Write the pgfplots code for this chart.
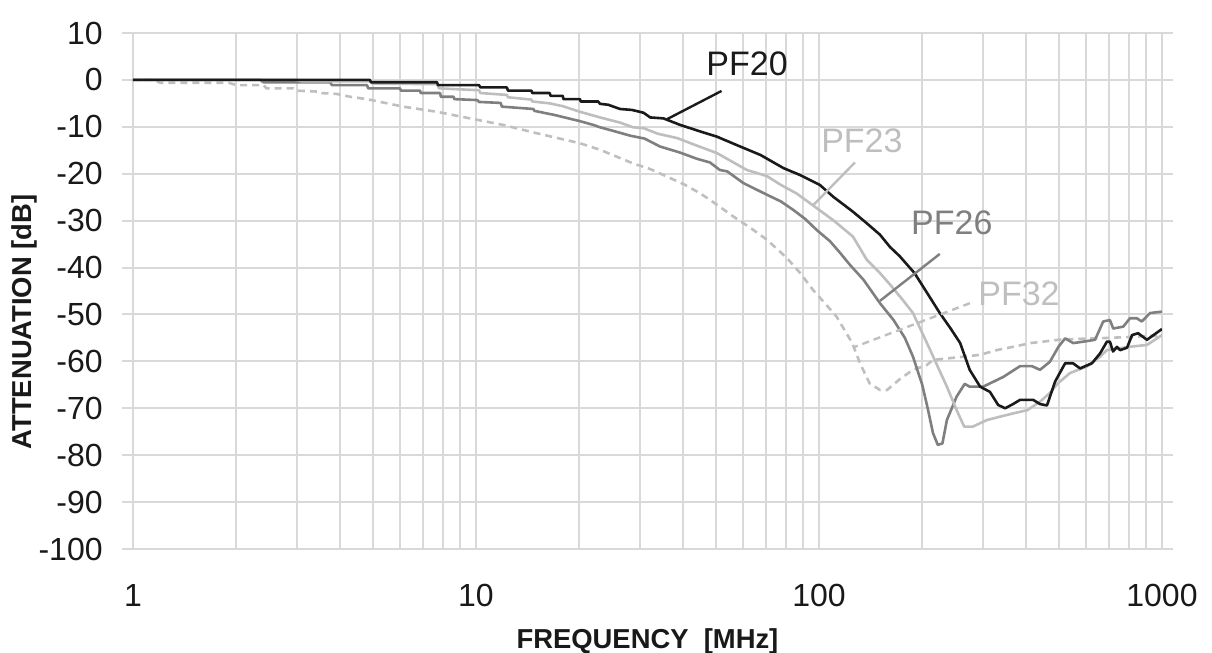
\documentclass[border=0pt]{standalone}
\usepackage{fontspec}
\setmainfont{Liberation Sans}
\usepackage{pgfplots}
\usepackage{pgfplotstable}
\pgfplotsset{compat=1.18}

\definecolor{gridgray}{HTML}{D9D9D9}
\definecolor{pfA}{HTML}{1A1A1A}
\definecolor{pfB}{HTML}{BEBEBE}
\definecolor{pfC}{HTML}{7F7F7F}
\definecolor{pfD}{HTML}{BFBFBF}

% frequency [MHz]  attenuation [dB]
\pgfplotstableread{
f db
1 0
4.9 0
4.95 -0.5
7.7 -0.5
7.75 -1.1
10.2 -1.1
10.3 -1.6
12.3 -1.6
12.4 -2.3
14.5 -2.3
14.6 -2.8
16.4 -2.8
16.5 -3.4
17.9 -3.4
18.0 -4.1
20.1 -4.1
20.2 -4.6
22.7 -4.6
23.0 -5.1
24.3 -5.3
26.3 -6.2
28.5 -6.4
30.8 -7.0
32.2 -8.0
35.2 -8.2
39.4 -9.6
45.1 -11.0
50.4 -12.1
57.6 -13.9
67.5 -16.0
78.8 -18.8
88.2 -20.3
100.6 -22.4
110 -24.9
125.6 -28.1
137.5 -30.5
150.6 -33.0
161 -35.6
172 -37.6
190 -41.2
207 -45.5
225 -49.7
242 -53.0
258 -56.1
275 -61.8
295 -65.4
315 -66.5
333 -69.3
349 -70.0
368 -69.1
386 -68.2
421 -68.2
441 -69.1
462 -69.4
488 -64.3
522 -60.4
550 -60.4
577 -61.5
625 -60.4
660 -58.3
691 -55.8
705 -55.8
720 -57.9
739 -56.9
755 -57.6
791 -57.1
818 -54.4
852 -54.0
904 -55.4
1000 -53.1
}\pftwenty

\pgfplotstableread{
f db
1 0
3.0 0
3.1 -0.3
4.9 -0.3
5.0 -0.8
7.7 -0.9
7.8 -1.8
10.2 -2.2
10.3 -2.8
12.3 -3.2
12.4 -3.7
14.5 -4.2
14.6 -4.6
16.4 -5.0
17.9 -5.6
20.1 -6.8
23.0 -8.0
26.3 -9.1
28.7 -10.1
30.8 -10.3
34.0 -11.5
38.6 -12.4
44.0 -14.0
50.4 -15.6
61.6 -19.2
70.5 -20.5
77.5 -22.4
86 -24.2
94.2 -26.3
110 -29.9
125.6 -33.4
138 -38.4
149 -40.8
161 -43.6
175 -46.8
188 -49.7
211 -57.6
236 -65.4
252 -70.4
265 -73.9
281 -73.9
309 -72.5
337 -71.8
368 -71.1
405 -70.4
441 -68.6
470 -66.8
497 -64.7
539 -62.5
604 -61.1
660 -59.0
691 -57.6
803 -56.9
904 -56.5
1000 -54.4
}\pftwentythree

\pgfplotstableread{
f db
1 0
2.35 0
2.4 -0.5
3.76 -0.5
3.8 -1.1
4.81 -1.1
4.85 -1.8
6.0 -1.8
6.05 -2.3
6.87 -2.3
6.9 -2.8
7.86 -2.8
7.9 -3.6
8.6 -3.6
8.65 -4.1
10.1 -4.3
10.2 -4.7
11.8 -4.9
11.9 -5.7
14.7 -6.2
14.8 -6.6
17 -7.5
20.1 -8.8
22 -9.6
23.0 -10.1
25.5 -11.0
28.2 -11.9
31.0 -12.5
34.4 -14.2
39.4 -15.5
44.0 -16.8
48.1 -17.6
51.4 -19.2
54 -19.5
60.2 -22.0
70.6 -24.5
77.4 -25.9
84.1 -27.7
91 -29.6
98.5 -32.0
107.7 -34.4
115.3 -36.9
123 -39.4
134.8 -42.6
150.6 -47.6
165 -51.2
178 -55.0
188 -59.0
200 -65.0
207 -69.7
215 -75.3
222 -77.8
229 -77.5
236 -72.5
252 -67.5
266 -64.8
275 -65.4
301 -65.4
345 -63.3
386 -61.0
417 -61.0
441 -61.8
471 -60.1
499 -56.9
522 -55.1
551 -56.1
590 -55.8
638 -55.4
674 -51.5
705 -51.2
721 -53.0
771 -52.6
807 -50.8
844 -50.8
873 -51.5
923 -49.7
1000 -49.4
}\pftwentysix

\pgfplotstableread{
f db
1 0
1.15 0
1.2 -0.6
1.9 -0.6
2.0 -1.1
2.4 -1.1
2.45 -1.8
2.93 -1.8
3.0 -2.3
3.5 -2.5
3.55 -2.8
3.93 -3.0
4.3 -3.6
4.81 -4.1
6.13 -5.7
7.7 -6.8
9.6 -8.2
12.0 -9.6
15.1 -11.4
20.1 -13.5
23.0 -14.9
28.7 -17.8
32.2 -19.0
36.0 -20.6
40.5 -22.3
45.1 -24.2
50.4 -26.6
56.2 -29.1
63 -31.5
70.6 -34.1
80.7 -38.0
88.2 -41.2
96.1 -44.8
104 -47.6
112.6 -50.5
125 -56.1
131.7 -60.4
140.5 -64.7
150.6 -66.1
158 -66.1
172 -63.8
188 -61.8
206 -60.8
215 -59.7
264 -59.0
295 -58.6
330 -57.6
368 -56.9
414 -56.1
514 -55.3
644 -55.1
807 -54.8
905 -54.6
1000 -54.6
}\pfthirtytwo

\begin{document}
\begin{tikzpicture}
\useasboundingbox (-66.5pt,-52pt) rectangle (539.5pt,274.5pt);
\begin{axis}[
  at={(0,0)}, anchor=south west,
  scale only axis, width=514.5pt, height=258pt,
  xmode=log, xmin=1, xmax=1000,
  ymin=-100, ymax=10,
  xtick={1,10,100,1000}, xticklabels={1,10,100,1000},
  minor xtick={2,3,4,5,6,7,8,9,20,30,40,50,60,70,80,90,200,300,400,500,600,700,800,900},
  ytick={-100,-90,-80,-70,-60,-50,-40,-30,-20,-10,0,10},
  yticklabels={-100,-90,-80,-70,-60,-50,-40,-30,-20,-10,0,10},
  xmajorgrids, xminorgrids, ymajorgrids,
  major grid style={gridgray, line width=1pt},
  minor grid style={gridgray, line width=1pt},
  axis line style={gridgray, line width=1pt},
  tick align=outside, major tick length=5.5pt, minor tick length=0pt,
  xtick style={draw=none}, ytick style={gridgray, line width=1pt},
  ticklabel style={font=\fontsize{16}{19}\selectfont, inner sep=0pt, text=black!90},
  yticklabel shift=9.5pt, xticklabel shift=12pt,
  xlabel={FREQUENCY\ \ [MHz]}, ylabel={ATTENUATION [dB]},
  label style={font=\bfseries\fontsize{13.7}{16}\selectfont, text=black!90},
  xlabel style={at={(axis description cs:0.5,-0.1919)}, anchor=base},
  ylabel style={at={(axis description cs:-0.1059,0.44)}, anchor=center},
  every axis plot/.append style={line width=1.3pt, line join=round},
]
\addplot[pfD, dash pattern=on 3.5pt off 2.5pt] table[x=f, y=db] {\pfthirtytwo};
\addplot[pfC] table[x=f, y=db] {\pftwentysix};
\addplot[pfB] table[x=f, y=db] {\pftwentythree};
\addplot[pfA] table[x=f, y=db] {\pftwenty};

% curve labels with leader lines
\draw[pfA, line width=1.2pt] (axis cs:52,-2.35) -- (axis cs:36,-8.4);
\node[text=pfA, font=\fontsize{17}{20}\selectfont] at (axis cs:61.7,3.5) {PF20};
\draw[pfB, line width=1.2pt] (axis cs:127.3,-17.6) -- (axis cs:96.2,-26.7);
\node[text=pfB, font=\fontsize{17}{20}\selectfont] at (axis cs:133.4,-13.0) {PF23};
\draw[pfC, line width=1.2pt] (axis cs:225,-37.1) -- (axis cs:150.6,-47.1);
\node[text=pfC, font=\fontsize{17}{20}\selectfont] at (axis cs:244,-30.4) {PF26};
\draw[pfD, line width=1.2pt, dash pattern=on 3.5pt off 2.5pt] (axis cs:275.5,-47.6) -- (axis cs:127.3,-56.9);
\node[text=pfD, font=\fontsize{17}{20}\selectfont] at (axis cs:383,-45.5) {PF32};
\end{axis}
\end{tikzpicture}
\end{document}
